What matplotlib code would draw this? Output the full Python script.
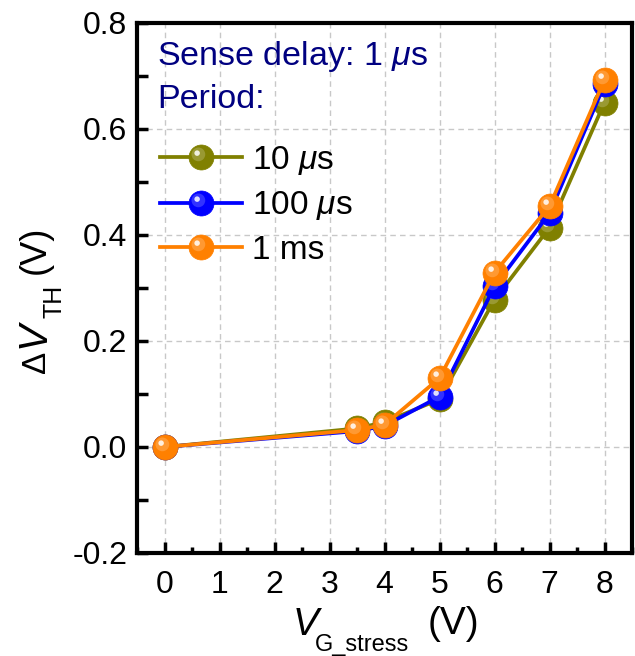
import numpy as np
import matplotlib
matplotlib.use("Agg")
import matplotlib.pyplot as plt
from matplotlib.path import Path
from matplotlib.legend_handler import HandlerTuple
from matplotlib.ticker import MultipleLocator

plt.rcParams['font.family'] = ['Liberation Sans', 'DejaVu Sans']
plt.rcParams['mathtext.fontset'] = 'custom'
plt.rcParams['mathtext.rm'] = 'Liberation Sans'
plt.rcParams['mathtext.it'] = 'Liberation Sans:italic'
plt.rcParams['mathtext.bf'] = 'Liberation Sans:bold'

# ---- data ----
v_stress = [0, 3.5, 4, 5, 6, 7, 8]
dvth_10us = [0.0, 0.035, 0.047, 0.090, 0.278, 0.414, 0.650]
dvth_100us = [0.0, 0.030, 0.040, 0.095, 0.303, 0.441, 0.684]
dvth_1ms = [0.0, 0.032, 0.042, 0.130, 0.329, 0.454, 0.693]
series_labels = ['10 $\\mu$s', '100 $\\mu$s', '1 ms']
series_colors = ['#808000', '#0000ff', '#ff8000']
x_ticks = [0, 1, 2, 3, 4, 5, 6, 7, 8]
y_ticks = [-0.2, 0.0, 0.2, 0.4, 0.6, 0.8]
y_ticklabels = ['-0.2', '0.0', '0.2', '0.4', '0.6', '0.8']

W, H = 635, 656
AX_L, AX_R, AX_T, AX_B = 137, 632, 23, 553


def offset_circle(cx, cy, r):
    circ = Path.circle((cx, cy), r)
    verts = list(circ.vertices) + [(-1, -1), (1, 1)]
    codes = list(circ.codes) + [Path.MOVETO, Path.MOVETO]
    return Path(verts, codes)


halo_marker = offset_circle(-0.25, 0.25, 0.55)
spec_marker = offset_circle(-0.35, 0.35, 0.22)

fig = plt.figure(figsize=(W / 100, H / 100), dpi=100)
ax = fig.add_axes([AX_L / W, (H - AX_B) / H, (AX_R - AX_L) / W, (AX_B - AX_T) / H])

ms = 18
handles = []
for ys, col in zip([dvth_10us, dvth_100us, dvth_1ms], series_colors):
    ln, = ax.plot(v_stress, ys, '-', color=col, lw=2.7, marker='o', ms=ms,
                  mfc=col, mec=col, mew=0.5, zorder=3)
    h1, = ax.plot(v_stress, ys, ls='none', marker=halo_marker, ms=ms,
                  mfc='white', mec='none', alpha=0.2, zorder=3)
    h2, = ax.plot(v_stress, ys, ls='none', marker=spec_marker, ms=ms,
                  mfc='white', mec='none', alpha=0.85, zorder=3)
    handles.append((ln, h1, h2))

ax.set_xlim(-0.5, 8.5)
ax.set_ylim(-0.2, 0.8)
ax.set_xticks(x_ticks)
ax.set_yticks(y_ticks)
ax.set_yticklabels(y_ticklabels)
ax.xaxis.set_minor_locator(MultipleLocator(0.5))
ax.yaxis.set_minor_locator(MultipleLocator(0.1))
ax.tick_params(which='major', direction='in', length=8, width=2.5, labelsize=23,
               top=False, right=False)
ax.tick_params(axis='x', which='major', pad=12)
ax.tick_params(axis='y', which='major', pad=7)
ax.tick_params(which='minor', direction='in', length=4, width=2.5, top=False, right=False)
ax.tick_params(axis='y', which='minor', length=8)
for s in ax.spines.values():
    s.set_linewidth(3)
ax.grid(True, which='major', ls=(0, (4, 3)), color='#c8c8c8', lw=1, zorder=0)


def fx(px):
    return px / W


def fy(py):
    return (H - py) / H


def axx(px):
    return (px - AX_L) / (AX_R - AX_L)


def axy(py):
    return (AX_B - py) / (AX_B - AX_T)


# x axis label: V_G_stress (V)
fig.text(fx(293), fy(635), 'V', fontsize=28, fontstyle='italic', ha='left', va='baseline')
fig.text(fx(315), fy(651), 'G_stress', fontsize=17, ha='left', va='baseline')
fig.text(fx(428), fy(634), '(V)', fontsize=28, ha='left', va='baseline')

# y axis label: Delta V_TH (V)
kw = dict(rotation=90, rotation_mode='anchor', ha='left', va='baseline')
fig.text(fx(45), fy(373), '\u0394', fontsize=24, **kw)
fig.text(fx(45), fy(348), 'V', fontsize=29, fontstyle='italic', **kw)
fig.text(fx(62), fy(318), 'TH', fontsize=18, **kw)
fig.text(fx(44.5), fy(274), '(V)', fontsize=26, **kw)

ax.text(axx(157), axy(57), 'Sense delay: 1 $\\mu$s',
        transform=ax.transAxes, fontsize=24.5, color='#000080', va='center', ha='left')
ax.text(axx(157), axy(100), 'Period:',
        transform=ax.transAxes, fontsize=24.5, color='#000080', va='center', ha='left')

leg = ax.legend(handles, series_labels, handler_map={tuple: HandlerTuple(ndivide=1)},
                loc='upper left', bbox_to_anchor=(axx(160), axy(144)),
                frameon=False, fontsize=24, handlelength=2.45, handletextpad=0.3,
                labelspacing=0.37, borderaxespad=0, borderpad=0)

fig.savefig('out.png', dpi=100)
